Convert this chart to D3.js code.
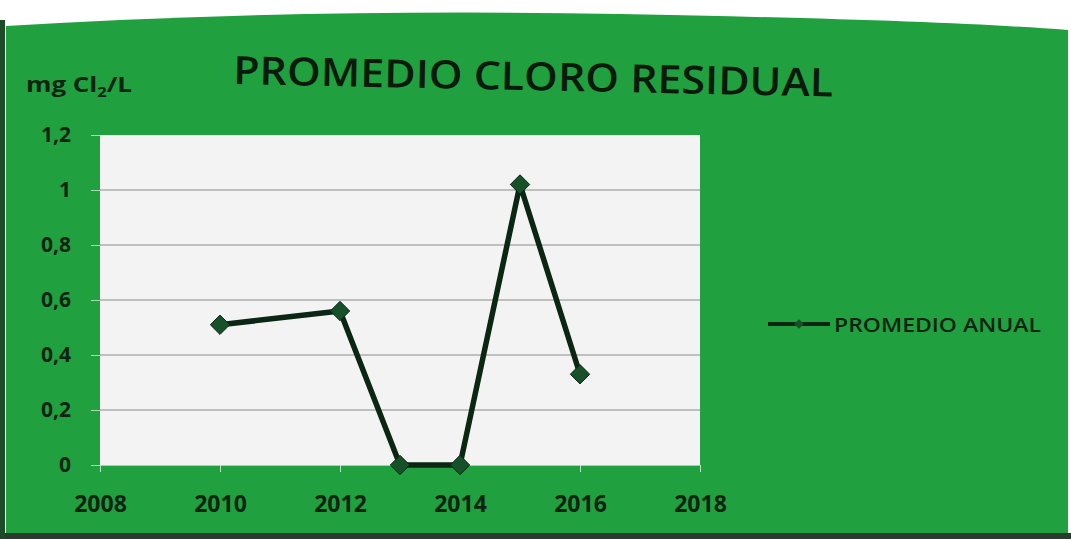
<!DOCTYPE html>
<html>
<head>
<meta charset="utf-8">
<script src="https://cdn.jsdelivr.net/npm/d3@7"></script>
<style>
  body { margin: 0; background: #ffffff; }
  svg { display: block; }
</style>
</head>
<body>
<div id="chart-container"></div>
<script>
// values
const years = [2010, 2012, 2013, 2014, 2015, 2016];
const promedioAnual = [0.51, 0.56, 0, 0, 1.02, 0.33];
const yTicks = [0, 0.2, 0.4, 0.6, 0.8, 1, 1.2];
const xTicks = [2008, 2010, 2012, 2014, 2016, 2018];
const seriesName = "PROMEDIO ANUAL";
const chartTitle = "PROMEDIO CLORO RESIDUAL";

const width = 1071;
const height = 539;
const plot = { left: 100, right: 700, top: 135, bottom: 465 };
const textColor = "#0e2412";
const font = "'Open Sans', 'DejaVu Sans', sans-serif";

const svg = d3
  .select("#chart-container")
  .append("svg")
  .attr("width", width)
  .attr("height", height);

// green card
svg
  .append("path")
  .attr("d", "M6,26 Q300,8 620,14 T1068,30 L1068,534 L6,534 Z")
  .attr("fill", "#21a03f");
svg
  .append("rect")
  .attr("x", 0)
  .attr("y", 533)
  .attr("width", width)
  .attr("height", 6)
  .attr("fill", "#2b3a2e");
svg
  .append("rect")
  .attr("x", 0)
  .attr("y", 20)
  .attr("width", 5)
  .attr("height", 519)
  .attr("fill", "#1d4a27");

const x = d3.scaleLinear().domain([2008, 2018]).range([plot.left, plot.right]);
const y = d3.scaleLinear().domain([0, 1.2]).range([plot.bottom, plot.top]);

const es = d3.formatLocale({ decimal: ",", thousands: ".", grouping: [3], currency: ["", "€"] });
const fmtY = es.format("~g");

// plot area
svg
  .append("rect")
  .attr("x", x(2008))
  .attr("y", y(1.2))
  .attr("width", x(2018) - x(2008))
  .attr("height", y(0) - y(1.2))
  .attr("fill", "#f3f3f3");

// gridlines
svg
  .append("g")
  .selectAll("line")
  .data(yTicks.filter((d) => d > 0 && d < 1.2))
  .join("line")
  .attr("x1", x(2008))
  .attr("x2", x(2018))
  .attr("y1", (d) => y(d))
  .attr("y2", (d) => y(d))
  .attr("stroke", "#8a8a8a")
  .attr("stroke-width", 1);

// y axis
const yAxis = svg
  .append("g")
  .attr("transform", `translate(${plot.left},0)`)
  .call(d3.axisLeft(y).tickValues(yTicks).tickFormat(fmtY).tickSize(9).tickPadding(20));
yAxis.select(".domain").remove();
yAxis.selectAll(".tick line").attr("stroke", "#a9d9b0");
yAxis
  .selectAll(".tick text")
  .attr("fill", textColor)
  .style("font-family", font)
  .style("font-size", "21px")
  .style("font-weight", 700);

// x axis
const xAxis = svg
  .append("g")
  .attr("transform", `translate(0,${plot.bottom})`)
  .call(d3.axisBottom(x).tickValues(xTicks).tickFormat(d3.format("d")).tickSize(7).tickPadding(24));
xAxis.select(".domain").attr("stroke", "#9fd6a8");
xAxis.selectAll(".tick line").attr("stroke", "#b7e2bd");
xAxis
  .selectAll(".tick text")
  .attr("fill", textColor)
  .style("font-family", font)
  .style("font-size", "23px")
  .style("font-weight", 700);

// series
const points = years.map((yr, i) => ({ year: yr, value: promedioAnual[i] }));
const line = d3
  .line()
  .x((d) => x(d.year))
  .y((d) => y(d.value));

svg
  .append("path")
  .datum(points)
  .attr("d", line)
  .attr("fill", "none")
  .attr("stroke", "#0b2612")
  .attr("stroke-width", 5.5)
  .attr("stroke-linejoin", "round");

const diamond = d3.symbol().type(d3.symbolDiamond2).size(240);
svg
  .append("g")
  .selectAll("path")
  .data(points)
  .join("path")
  .attr("d", diamond)
  .attr("transform", (d) => `translate(${x(d.year)},${y(d.value)})`)
  .attr("fill", "#17512a")
  .attr("stroke", "#0b2612")
  .attr("stroke-width", 1);

// title (the photo is taken at a slight angle)
svg
  .append("text")
  .attr("x", 233)
  .attr("y", 84)
  .attr("transform", "rotate(1.2, 233, 84)")
  .attr("textLength", 600)
  .attr("lengthAdjust", "spacingAndGlyphs")
  .attr("fill", "#0a1a0c")
  .style("font-family", font)
  .style("font-size", "39px")
  .style("font-weight", 600)
  .text(chartTitle);

// unit label
const unit = svg
  .append("text")
  .attr("x", 26)
  .attr("y", 92)
  .attr("textLength", 106)
  .attr("lengthAdjust", "spacingAndGlyphs")
  .attr("fill", textColor)
  .style("font-family", font)
  .style("font-size", "22px")
  .style("font-weight", 700);
unit.append("tspan").text("mg Cl");
unit.append("tspan").attr("dy", 5).style("font-size", "14px").text("2");
unit.append("tspan").attr("dy", -5).text("/L");

// legend
const legend = svg.append("g").attr("transform", "translate(768,324)");
legend
  .append("line")
  .attr("x1", 0)
  .attr("x2", 62)
  .attr("stroke", "#0b2612")
  .attr("stroke-width", 4);
legend
  .append("path")
  .attr("d", d3.symbol().type(d3.symbolDiamond2).size(60))
  .attr("transform", "translate(31,0)")
  .attr("fill", "#17512a");
legend
  .append("text")
  .attr("x", 66)
  .attr("y", 8)
  .attr("textLength", 207)
  .attr("lengthAdjust", "spacingAndGlyphs")
  .attr("fill", textColor)
  .style("font-family", font)
  .style("font-size", "20px")
  .style("font-weight", 600)
  .text(seriesName);
</script>
</body>
</html>
